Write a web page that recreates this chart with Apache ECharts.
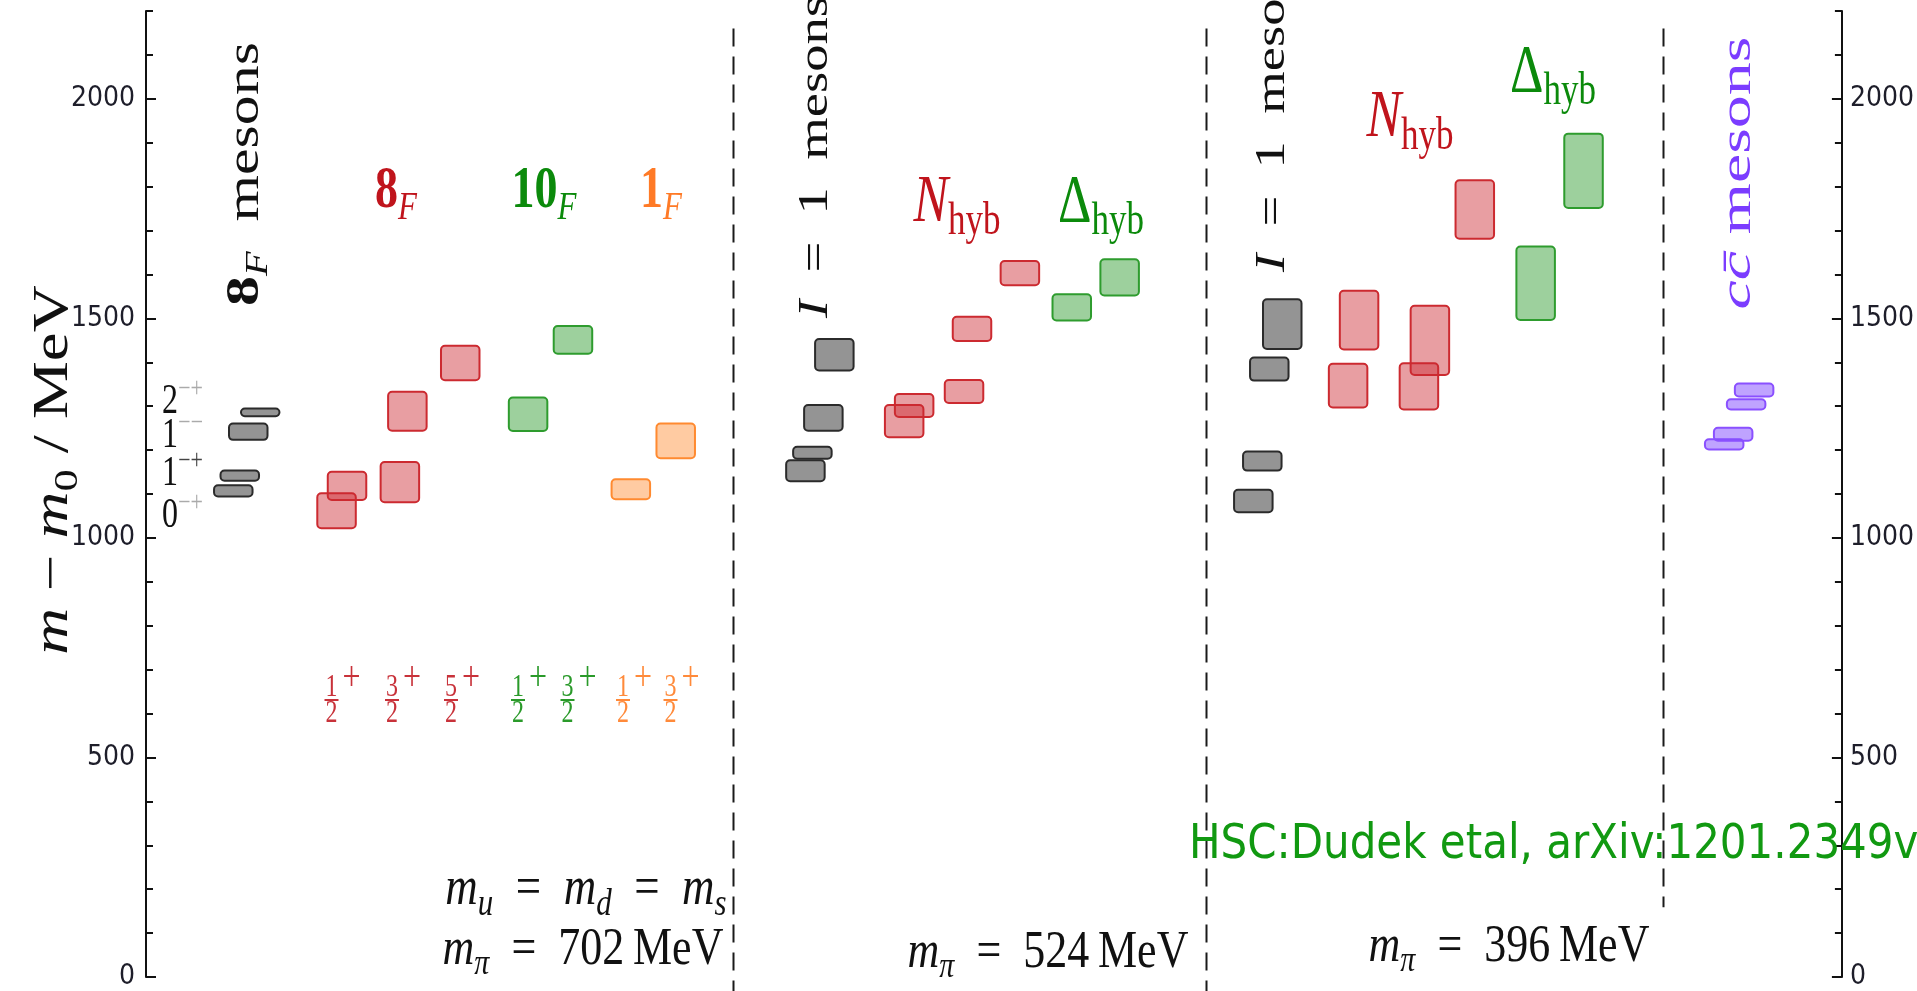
<!DOCTYPE html>
<html><head><meta charset="utf-8">
<script src="https://cdn.jsdelivr.net/npm/echarts@6/dist/echarts.min.js"></script>
<style>html,body{margin:0;padding:0;background:#fff;overflow:hidden}#c{width:1917px;height:991px;}</style>
</head><body><div id="c"></div>
<script>
// ---------------- data ----------------
const Y_MIN = 0, Y_MAX = 2200;
const yTickLabels = [0, 500, 1000, 1500, 2000];
const yTicks = [0, 100, 200, 300, 400, 500, 600, 700, 800, 900, 1000, 1100, 1200, 1300, 1400, 1500, 1600, 1700, 1800, 1900, 2000, 2100, 2200];
// each state: [column position, mass low, mass high]  (MeV)
const mesons702   = [[8.75, 1092, 1122], [9.4, 1128, 1156], [10.25, 1221, 1263], [11.45, 1275, 1297]];
const octet702    = [[19.1, 1020, 1104], [20.15, 1084, 1153], [25.45, 1079, 1175], [26.2, 1242, 1335], [31.5, 1357, 1440]];
const decuplet702 = [[38.3, 1241, 1322], [42.8, 1417, 1485]];
const singlet702  = [[48.6, 1086, 1136], [53.1, 1179, 1263]];
const mesons524   = [[66.1, 1127, 1179], [66.8, 1178, 1210], [67.9, 1242, 1305], [69.0, 1379, 1455]];
const nHyb524     = [[76.0, 1227, 1305], [77.0, 1273, 1330], [82.0, 1305, 1362], [82.8, 1446, 1506], [87.6, 1573, 1633]];
const dHyb524     = [[92.8, 1493, 1557], [97.6, 1550, 1637]];
const mesons396   = [[111.0, 1056, 1112], [111.9, 1151, 1199], [112.6, 1356, 1413], [113.9, 1428, 1546]];
const nHyb396     = [[120.5, 1295, 1399], [121.6, 1427, 1565], [127.6, 1290, 1400], [128.7, 1369, 1531], [133.2, 1679, 1817]];
const dHyb396     = [[139.3, 1494, 1666], [144.1, 1749, 1923]];
const mesonsCC    = [[158.2, 1199, 1227], [159.1, 1219, 1253], [160.4, 1290, 1318], [161.2, 1320, 1354]];
// dividers: [column position, top mass, bottom mass]
const dividers = [[58.8, 2160, -32], [106.3, 2160, -32], [152.1, 2160, 159]];
const jpcLabels = ['2', '1', '1', '0'];
const jpcSups = ['−+', '−−', '−+', '−+'];
const fracNums = ['1', '3', '5', '1', '3', '1', '3'];

// ---------------- styles ----------------
const SERIF = "'Liberation Serif', 'DejaVu Serif', serif";
const AXFONT = "'Liberation Sans Narrow', 'DejaVu Sans Condensed', 'DejaVu Sans', sans-serif";
const RED = '#c0141c', GREEN = '#0b8a0b', ORANGE = '#ff7a26', PURPLE = '#7b3cff';
const BOX_HALF = 2.03;
const S = 1.3;

const chart = echarts.init(document.getElementById('c'), null, {renderer: 'canvas'});

function boxSeries(name, data, fill, stroke) {
  return {
    type: 'custom', name, data, silent: true, animation: false, clip: false,
    encode: {x: 0, y: [1, 2]},
    renderItem: function (params, api) {
      const xc = api.value(0), lo = api.value(1), hi = api.value(2);
      const a = api.coord([xc - BOX_HALF, hi]);
      const b = api.coord([xc + BOX_HALF, lo]);
      return {type: 'rect', shape: {x: a[0] + 1, y: a[1] + 1, width: b[0] - a[0] - 2, height: b[1] - a[1] - 2, r: 4},
        style: {fill: fill, stroke: stroke, lineWidth: 2}};
    }
  };
}
function dividerSeries(data) {
  return {
    type: 'custom', name: 'dividers', data, silent: true, animation: false, clip: false,
    encode: {x: 0, y: [1, 2]},
    renderItem: function (params, api) {
      const a = api.coord([api.value(0), api.value(1)]);
      const b = api.coord([api.value(0), api.value(2)]);
      return {type: 'line', shape: {x1: Math.round(a[0]) + 0.5, y1: a[1], x2: Math.round(a[0]) + 0.5, y2: b[1]},
        style: {stroke: '#1a1a1a', lineWidth: 2, lineDash: [18, 10]}};
    }
  };
}
function yAx(pos, major) {
  return {
    type: 'value', position: pos, min: Y_MIN, max: Y_MAX,
    axisLine: {show: major, lineStyle: {color: '#111', width: 2}},
    axisTick: {show: true, inside: true, length: major ? 10 : 7, customValues: major ? yTickLabels : yTicks,
      lineStyle: {color: '#111', width: 2}},
    axisLabel: {show: major, customValues: yTickLabels, margin: pos === 'left' ? 11 : 8,
      formatter: v => String(v),
      color: '#1e1e2a', fontSize: 28, fontFamily: AXFONT},
    splitLine: {show: false}
  };
}
function mt(o) {
  const fs = o.fs, c = o.color, sub = Math.round(fs * 0.68);
  const rich = {
    r: {font: fs + 'px ' + SERIF, fill: c},
    i: {font: 'italic ' + fs + 'px ' + SERIF, fill: c},
    b: {font: 'bold ' + fs + 'px ' + SERIF, fill: c},
    si: {font: 'italic ' + sub + 'px ' + SERIF, fill: c, padding: [Math.round(fs * 0.55), 0, 0, 0]},
    sr: {font: sub + 'px ' + SERIF, fill: c, padding: [Math.round(fs * 0.55), 0, 0, 0]},
    su: {font: sub + 'px ' + SERIF, fill: o.supColor || c, padding: [0, 0, Math.round(fs * 0.6), 0]}
  };
  const text = o.parts.map(p => '{' + p[0] + '|' + p[1] + '}').join('');
  return {type: 'text', x: o.x, y: o.y, rotation: o.rot || 0, scaleX: o.sx || 1, scaleY: o.sy || 1,
    silent: true, z: 50,
    style: {text: text, rich: rich, font: fs + 'px ' + SERIF, fill: c, align: o.align || 'center', verticalAlign: 'middle'}};
}

const R90 = Math.PI / 2;
const g = [];
// axis title
g.push(mt({x: 54, y: 470, rot: R90, sx: S, fs: 50, color: '#111',
  parts: [['i', 'm'], ['r', ' − '], ['i', 'm'], ['sr', '0'], ['r', ' / MeV']]}));
// section titles (rotated)
g.push(mt({x: 246, y: 174, rot: R90, sx: S, fs: 46, color: '#111',
  parts: [['b', '8'], ['si', 'F'], ['r', '\u2002mesons']]}));
g.push(mt({x: 816, y: 318, rot: R90, sx: S, fs: 42, color: '#111', align: 'left',
  parts: [['i', 'I'], ['r', '\u2002=\u20021\u2002mesons']]}));
g.push(mt({x: 1273, y: 272, rot: R90, sx: S, fs: 42, color: '#111', align: 'left',
  parts: [['i', 'I'], ['r', '\u2002=\u20021\u2002mesons']]}));
g.push(mt({x: 1738, y: 173, rot: R90, sx: 1.5, fs: 44, color: PURPLE,
  parts: [['i', 'cc\u0304'], ['r', ' mesons']]}));
// flavour headings
g.push(mt({x: 396, y: 192, sy: S, fs: 46, color: RED, parts: [['b', '8'], ['si', 'F']]}));
g.push(mt({x: 544, y: 192, sy: S, fs: 46, color: GREEN, parts: [['b', '10'], ['si', 'F']]}));
g.push(mt({x: 661, y: 192, sy: S, fs: 46, color: ORANGE, parts: [['b', '1'], ['si', 'F']]}));
g.push(mt({x: 957, y: 203, sy: S, fs: 52, color: RED, parts: [['i', 'N'], ['sr', 'hyb']]}));
g.push(mt({x: 1101, y: 203, sy: S, fs: 52, color: GREEN, parts: [['r', 'Δ'], ['sr', 'hyb']]}));
g.push(mt({x: 1410, y: 118, sy: S, fs: 52, color: RED, parts: [['i', 'N'], ['sr', 'hyb']]}));
g.push(mt({x: 1553, y: 73, sy: S, fs: 52, color: GREEN, parts: [['r', 'Δ'], ['sr', 'hyb']]}));
// J^PC labels
const jpcY = [402, 436, 474, 516];
jpcLabels.forEach((l, k) => {
  g.push(mt({x: 162, y: jpcY[k], sy: S, fs: 32, color: '#111', align: 'left', supColor: k === 2 ? '#444' : '#aaa',
    parts: [['r', l], ['su', jpcSups[k]]]}));
});
// J^P fraction labels
const fracX = [331.5, 392, 451, 518, 567.5, 623, 670.5];
const fracC = ['#c8323a', '#c8323a', '#c8323a', '#2a9a2a', '#2a9a2a', '#ff8a3a', '#ff8a3a'];
fracNums.forEach((n, k) => {
  const x = fracX[k], c = fracC[k];
  g.push({type: 'text', x: x, y: 688, scaleY: S, silent: true, style: {text: n, font: '24px ' + SERIF, fill: c, align: 'center', verticalAlign: 'middle'}});
  g.push({type: 'line', silent: true, shape: {x1: x - 7, y1: 700, x2: x + 7, y2: 700}, style: {stroke: c, lineWidth: 2}});
  g.push({type: 'text', x: x, y: 714, scaleY: S, silent: true, style: {text: '2', font: '24px ' + SERIF, fill: c, align: 'center', verticalAlign: 'middle'}});
  g.push({type: 'text', x: x + 20, y: 679, scaleY: S, silent: true, style: {text: '+', font: '32px ' + SERIF, fill: c, align: 'center', verticalAlign: 'middle'}});
});
// pion mass labels
g.push(mt({x: 586, y: 890, sy: 1.22, fs: 45, color: '#111',
  parts: [['i', 'm'], ['si', 'u'], ['r', '\u2002=\u2002'], ['i', 'm'], ['si', 'd'], ['r', '\u2002=\u2002'], ['i', 'm'], ['si', 's']]}));
g.push(mt({x: 583, y: 950, sy: 1.22, fs: 44, color: '#111',
  parts: [['i', 'm'], ['si', 'π'], ['r', '\u2002=\u2002702\u2009MeV']]}));
g.push(mt({x: 1048, y: 953, sy: 1.22, fs: 44, color: '#111',
  parts: [['i', 'm'], ['si', 'π'], ['r', '\u2002=\u2002524\u2009MeV']]}));
g.push(mt({x: 1509, y: 947, sy: 1.22, fs: 44, color: '#111',
  parts: [['i', 'm'], ['si', 'π'], ['r', '\u2002=\u2002396\u2009MeV']]}));
// citation
g.push({type: 'text', x: 1189, y: 845, scaleY: 1.15, silent: true, z: 60,
  style: {text: 'HSC:Dudek etal, arXiv:1201.2349v', font: '42px "DejaVu Sans"', fill: '#119911', align: 'left', verticalAlign: 'middle'}});

const GRAY_F = 'rgba(60,60,60,0.55)', GRAY_S = '#2b2b2b';
const RED_F = 'rgba(204,40,48,0.45)', RED_S = '#cc2a30';
const GRN_F = 'rgba(46,156,46,0.47)', GRN_S = '#2e9c2e';
const ORG_F = 'rgba(255,140,48,0.45)', ORG_S = '#ff8a30';
const PUR_F = 'rgba(128,72,255,0.5)', PUR_S = '#8a50ff';

chart.setOption({
  animation: false,
  backgroundColor: '#fff',
  grid: {left: 146, right: 72, top: 11, bottom: 14, containLabel: false},
  xAxis: {type: 'value', min: 0, max: 170, show: false},
  yAxis: [yAx('left', true), yAx('left', false), yAx('right', true), yAx('right', false)],
  series: [
    dividerSeries(dividers),
    boxSeries('8F mesons 702', mesons702, GRAY_F, GRAY_S),
    boxSeries('8F baryons 702', octet702, RED_F, RED_S),
    boxSeries('10F baryons 702', decuplet702, GRN_F, GRN_S),
    boxSeries('1F baryons 702', singlet702, ORG_F, ORG_S),
    boxSeries('I=1 mesons 524', mesons524, GRAY_F, GRAY_S),
    boxSeries('N hyb 524', nHyb524, RED_F, RED_S),
    boxSeries('Delta hyb 524', dHyb524, GRN_F, GRN_S),
    boxSeries('I=1 mesons 396', mesons396, GRAY_F, GRAY_S),
    boxSeries('N hyb 396', nHyb396, RED_F, RED_S),
    boxSeries('Delta hyb 396', dHyb396, GRN_F, GRN_S),
    boxSeries('cc mesons', mesonsCC, PUR_F, PUR_S)
  ],
  graphic: {elements: g}
});
</script></body></html>
